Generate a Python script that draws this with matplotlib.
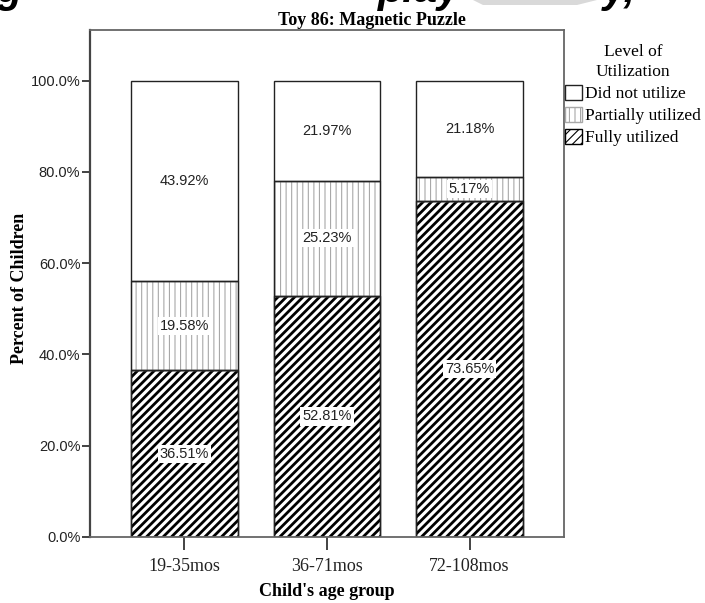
import matplotlib
matplotlib.use('Agg')
import matplotlib.pyplot as plt
from matplotlib.patches import Polygon

# Data
groups = ['19-35mos', '36-71mos', '72-108mos']
fully_utilized = [36.51, 52.81, 73.65]
partially_utilized = [19.58, 25.23, 5.17]
did_not_utilize = [43.92, 21.97, 21.18]
level_labels = ['Did not utilize', 'Partially utilized', 'Fully utilized']
yticks = [0, 20, 40, 60, 80, 100]

SERIF = 'Liberation Serif'
SANS = 'Liberation Sans'

fig = plt.figure(figsize=(7.05, 6.03), dpi=100)
ax = fig.add_axes([90 / 705, 66 / 603, 474 / 705, 507.5 / 603])

x = list(range(len(groups)))
width = 0.75
bottom_partial = fully_utilized
bottom_top = [f + p for f, p in zip(fully_utilized, partially_utilized)]

# Fully utilized: dense black diagonal hatch
plt.rcParams['hatch.linewidth'] = 2.0
full_bars = ax.bar(x, fully_utilized, width, color='white', edgecolor='black',
                   hatch='////', linewidth=1.0)

# Partially utilized: light grey vertical lines
plt.rcParams['hatch.linewidth'] = 0.8
part_bars = ax.bar(x, partially_utilized, width, bottom=bottom_partial,
                   color='white', edgecolor='#a8a8a8', hatch='|||', linewidth=1.0)

# Did not utilize: plain white
none_bars = ax.bar(x, did_not_utilize, width, bottom=bottom_top,
                   color='white', edgecolor='#222222', linewidth=1.0)

# black outlines on every segment
ax.bar(x, fully_utilized, width, fill=False, edgecolor='#222222', linewidth=1.0)
ax.bar(x, partially_utilized, width, bottom=bottom_partial, fill=False,
       edgecolor='#222222', linewidth=1.0)

# Percentage labels in white boxes
box = dict(facecolor='white', edgecolor='none', pad=1.5)
for vals, bottoms in [(fully_utilized, [0, 0, 0]),
                      (partially_utilized, bottom_partial),
                      (did_not_utilize, bottom_top)]:
    for xi, v, b in zip(x, vals, bottoms):
        ax.text(xi, b + v / 2, f'{v:.2f}%', ha='center', va='center',
                fontsize=10.5, family=SANS, color='#222222', bbox=box)

ax.set_xlim(-0.663, 2.663)
ax.set_ylim(0, 111.2)
ax.set_yticks(yticks)
ax.set_yticklabels([f'{t:.1f}%' for t in yticks], fontsize=10.5, family=SANS)
ax.set_xticks(x)
ax.set_xticklabels(groups, fontsize=13, family=SERIF)
ax.tick_params(axis='y', length=6, width=1.2, pad=1, colors='#222222')
ax.tick_params(axis='x', length=9, width=1.2, pad=6, colors='#222222')

for side in ['top', 'right', 'bottom']:
    ax.spines[side].set_color('#666666')
    ax.spines[side].set_linewidth(1.3)
ax.spines['left'].set_color('#444444')
ax.spines['left'].set_linewidth(1.6)

# Titles and axis labels
fig.text(372 / 705, 1 - 25 / 603, 'Toy 86: Magnetic Puzzle', ha='center',
         va='baseline', fontsize=13, family=SERIF, fontweight='bold')
fig.text(327 / 705, 1 - 591 / 603, "Child's age group", ha='center',
         va='center', fontsize=13, family=SERIF, fontweight='bold')
fig.text(20 / 705, 1 - 288 / 603, 'Percent of Children', ha='center',
         va='center', rotation=90, fontsize=13, family=SERIF, fontweight='bold')

# Legend
leg = fig.legend([none_bars, part_bars, full_bars], level_labels,
                 title='Level of\nUtilization', loc='upper left',
                 bbox_to_anchor=(565 / 705, 1 - 44 / 603), frameon=False,
                 prop={'family': SERIF, 'size': 12.5},
                 title_fontproperties={'family': SERIF, 'size': 12.5},
                 handlelength=1.0, handleheight=1.0, handletextpad=0.15,
                 labelspacing=0.25, borderpad=0, borderaxespad=0,
                 alignment='center')
leg.get_title().set_multialignment('center')
leg.get_title().set_linespacing(1.35)

# Cut-off heading at the very top of the page
for txt, xp in [('g', -4), ('play', 378), ('y,', 603)]:
    fig.text(xp / 705, 1 - 2 / 603, txt, ha='left', va='baseline',
             fontsize=30, family=SANS, fontweight='bold', style='italic')
fig.patches.append(Polygon([(473 / 705, 1.0), (597 / 705, 1.0),
                            (577 / 705, 1 - 5 / 603), (483 / 705, 1 - 5 / 603)],
                           closed=True, transform=fig.transFigure,
                           facecolor='#d9d9d9', edgecolor='none'))

fig.savefig('out.png', dpi=100)
